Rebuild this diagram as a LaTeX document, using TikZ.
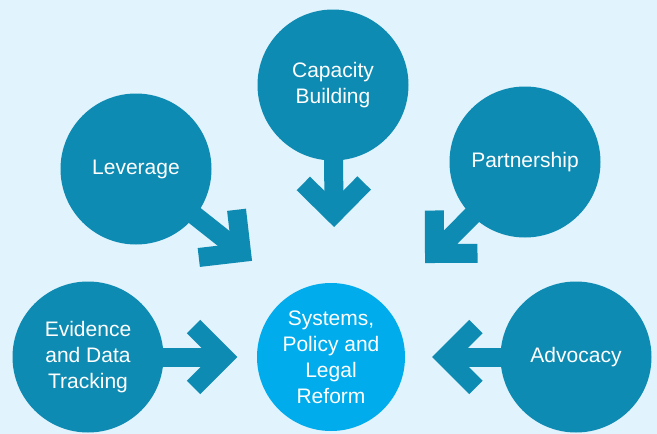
\documentclass[tikz,border=0pt]{standalone}
\usepackage{fontspec}
\setmainfont{Liberation Sans}
\usetikzlibrary{calc}
\definecolor{bgc}{HTML}{E1F3FC}
\definecolor{darkc}{HTML}{0E8BB2}
\definecolor{brightc}{HTML}{00ACEC}
\pgfdeclarelayer{bglayer}
\pgfdeclarelayer{arrowlayer}
\pgfsetlayers{bglayer,arrowlayer,main}
\tikzset{
  bubble/.style={circle, fill=darkc, inner sep=0pt, minimum size=151pt, text=white,
    align=center, font=\fontsize{21}{26}\selectfont},
  hub/.style={bubble, fill=brightc, minimum size=148pt},
  arrowline/.style={draw=darkc, line width=19pt, line cap=butt},
  headline/.style={arrowline, line join=miter},
}
\newcommand{\chevron}[2]{%
  \draw[arrowline] (#1.center) -- (#2);
  \draw[headline] ($(#2)!43pt!45:(#1.center)$) -- (#2) -- ($(#2)!43pt!-45:(#1.center)$);
}
\begin{document}
\begin{tikzpicture}[x=1pt,y=-1pt]
\begin{pgfonlayer}{bglayer}
\fill[bgc] (0,0) rectangle (657,434);
\end{pgfonlayer}
\useasboundingbox (0,0) rectangle (657,434);
\begin{scope}
\clip (0,0) rectangle (657,434);
\node[bubble] (cap) at (333,85) {Capacity\\Building};
\node[bubble] (lev) at (136,169) {Leverage};
\node[bubble] (par) at (525,162) {Partnership};
\node[bubble] (evi) at (88,357) {Evidence\\and Data\\Tracking};
\node[bubble] (adv) at (576,357) {Advocacy};
\node[hub] (sys) at (331,357) {Systems,\\Policy and\\Legal\\Reform};
\coordinate (tcap) at (334,213.6);
\coordinate (tlev) at (241.5,252.5);
\coordinate (tpar) at (434.5,253.5);
\coordinate (tevi) at (224,357);
\coordinate (tadv) at (445.5,357);
\begin{pgfonlayer}{arrowlayer}
\chevron{cap}{tcap}
\chevron{lev}{tlev}
\chevron{par}{tpar}
\chevron{evi}{tevi}
\chevron{adv}{tadv}
\end{pgfonlayer}
\end{scope}
\end{tikzpicture}
\end{document}
